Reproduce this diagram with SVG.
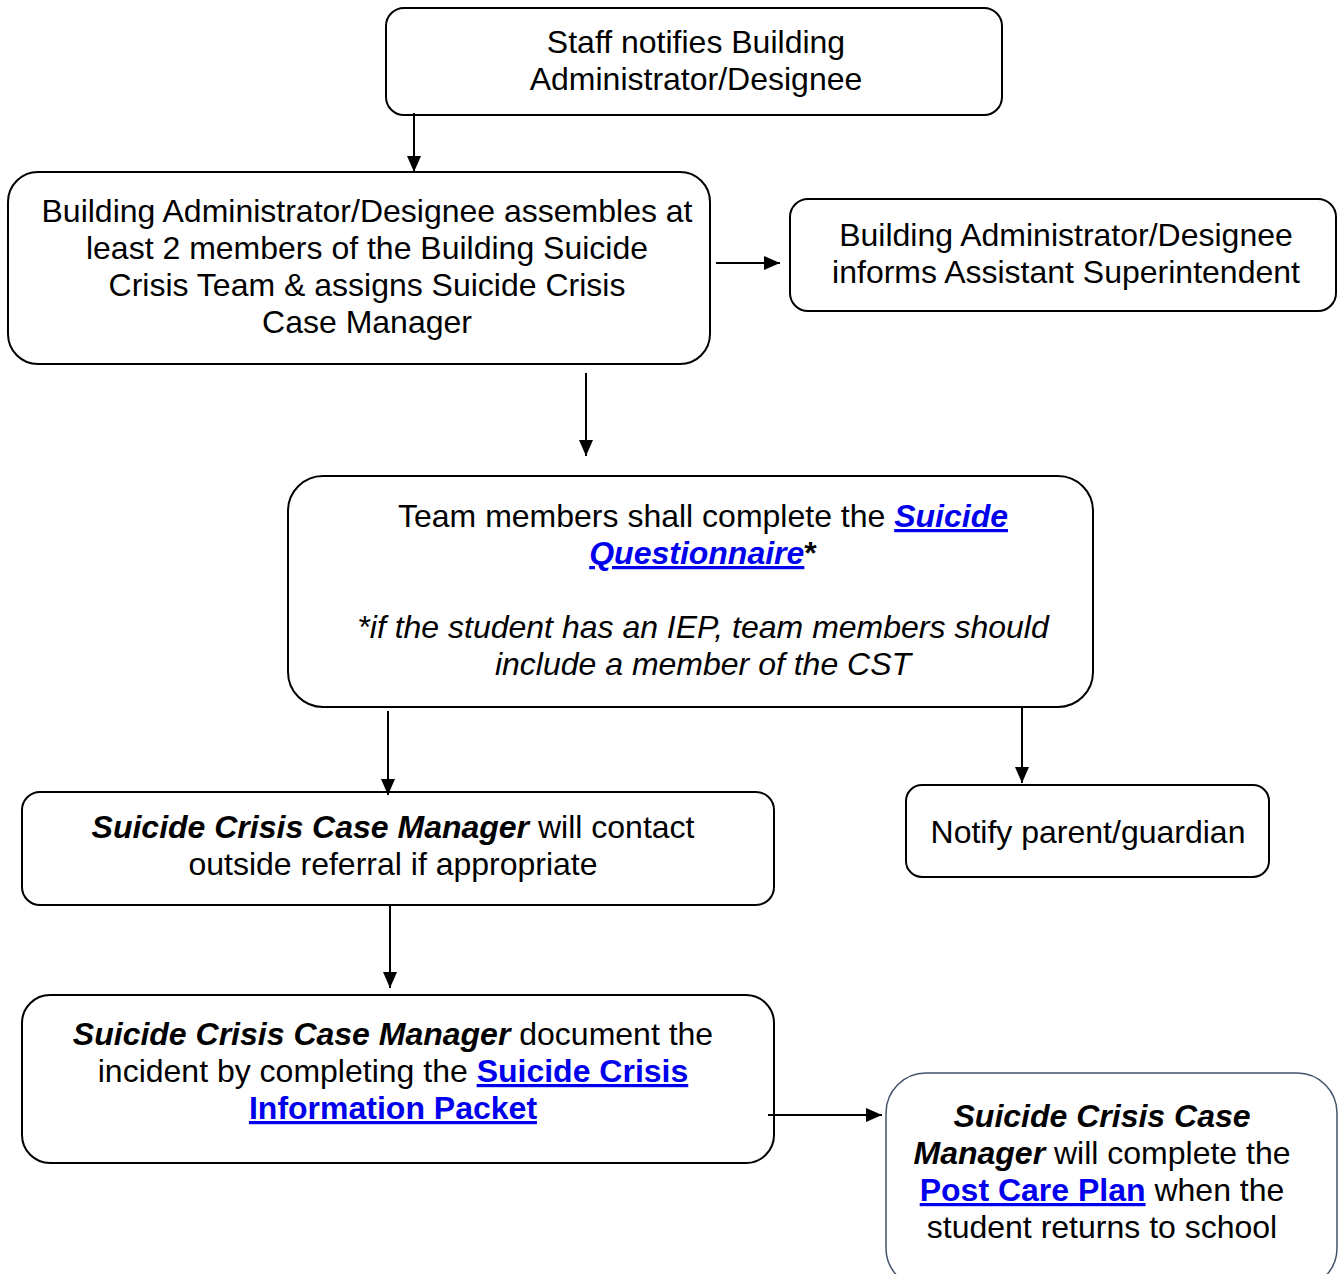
<svg xmlns="http://www.w3.org/2000/svg" width="1338" height="1274" viewBox="0 0 1338 1274">
<style>
.box{fill:#fff;stroke:#000;stroke-width:2}
.t{font-family:"Liberation Sans",Arial,sans-serif;font-size:32px;fill:#000;text-anchor:middle}
.b{font-weight:bold}
.i{font-style:italic}
.l{fill:#0000EE;font-weight:bold;text-decoration:underline}
.c{stroke:#000;stroke-width:2;fill:none}
</style>
<defs>
<marker id="a" viewBox="0 0 16 14" refX="16" refY="7" markerWidth="16" markerHeight="14" markerUnits="userSpaceOnUse" orient="auto">
<path d="M0,0 L16,7 L0,14 z" fill="#000"/>
</marker>
</defs>
<rect width="1338" height="1274" fill="#fff"/>
<g id="n1">
<rect class="box" x="386" y="8" width="616" height="107" rx="18"/>
<text class="t" x="696" y="53">Staff notifies Building</text>
<text class="t" x="696" y="90">Administrator/Designee</text>
</g>
<g id="n2">
<rect class="box" x="8" y="172" width="702" height="192" rx="30"/>
<text class="t" x="367" y="222">Building Administrator/Designee assembles at</text>
<text class="t" x="367" y="259">least 2 members of the Building Suicide</text>
<text class="t" x="367" y="296">Crisis Team &amp; assigns Suicide Crisis</text>
<text class="t" x="367" y="333">Case Manager</text>
</g>
<g id="n3">
<rect class="box" x="790" y="199" width="546" height="112" rx="18"/>
<text class="t" x="1066" y="246">Building Administrator/Designee</text>
<text class="t" x="1066" y="283">informs Assistant Superintendent</text>
</g>
<g id="n4">
<rect class="box" x="288" y="476" width="805" height="231" rx="35"/>
<text class="t" x="703" y="527">Team members shall complete the <tspan class="l i">Suicide</tspan></text>
<text class="t" x="703" y="564"><tspan class="l i">Questionnaire</tspan><tspan class="b">*</tspan></text>
<text class="t i" x="703" y="638">*if the student has an IEP, team members should</text>
<text class="t i" x="703" y="675">include a member of the CST</text>
</g>
<g id="n5">
<rect class="box" x="22" y="792" width="752" height="113" rx="18"/>
<text class="t" x="393" y="838"><tspan class="b i">Suicide Crisis Case Manager</tspan> will contact</text>
<text class="t" x="393" y="875">outside referral if appropriate</text>
</g>
<g id="n6">
<rect class="box" x="906" y="785" width="363" height="92" rx="16"/>
<text class="t" x="1088" y="843">Notify parent/guardian</text>
</g>
<g id="n7">
<rect class="box" x="22" y="995" width="752" height="168" rx="28"/>
<text class="t" x="393" y="1045"><tspan class="b i">Suicide Crisis Case Manager</tspan> document the</text>
<text class="t" x="393" y="1082">incident by completing the <tspan class="l">Suicide Crisis</tspan></text>
<text class="t" x="393" y="1119"><tspan class="l">Information Packet</tspan></text>
</g>
<g id="n8">
<rect x="886" y="1073" width="451" height="215" rx="40" fill="#fff" stroke="#44546A" stroke-width="1.5"/>
<text class="t" x="1102" y="1127"><tspan class="b i">Suicide Crisis Case</tspan></text>
<text class="t" x="1102" y="1164"><tspan class="b i">Manager</tspan> will complete the</text>
<text class="t" x="1102" y="1201"><tspan class="l">Post Care Plan</tspan> when the</text>
<text class="t" x="1102" y="1238">student returns to school</text>
</g>
<g id="connectors">
<line class="c" x1="414" y1="113" x2="414" y2="172" marker-end="url(#a)"/>
<line class="c" x1="716" y1="263" x2="780" y2="263" marker-end="url(#a)"/>
<line class="c" x1="586" y1="373" x2="586" y2="456" marker-end="url(#a)"/>
<line class="c" x1="388" y1="711" x2="388" y2="795" marker-end="url(#a)"/>
<line class="c" x1="1022" y1="708" x2="1022" y2="783" marker-end="url(#a)"/>
<line class="c" x1="390" y1="906" x2="390" y2="988" marker-end="url(#a)"/>
<line class="c" x1="768" y1="1115" x2="882" y2="1115" marker-end="url(#a)"/>
</g>
</svg>
